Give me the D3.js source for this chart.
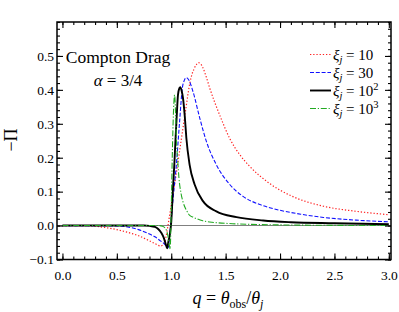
<!DOCTYPE html>
<html>
<head>
<meta charset="utf-8">
<script src="https://cdn.jsdelivr.net/npm/d3@7"></script>
<style>
html,body{margin:0;padding:0;background:#fff;}
svg{display:block;}
text{font-family:"Liberation Serif","DejaVu Serif",serif;fill:#000;}
</style>
</head>
<body>
<svg id="chart" width="399" height="312"></svg>
<script>
// ---- data ----
const xTicks = [0.0, 0.5, 1.0, 1.5, 2.0, 2.5, 3.0];
const yTicks = [-0.1, 0.0, 0.1, 0.2, 0.3, 0.4, 0.5];

const qRed = [0.0,0.2,0.3,0.4,0.5,0.6,0.7,0.8,0.85,0.9,0.93,0.95,0.97,0.99,1.01,1.04,1.07,1.10,1.13,1.17,1.19,1.21,1.23,1.25,1.27,1.29,1.32,1.354,1.40,1.45,1.54,1.63,1.72,1.9,2.1,2.4,2.7,3.0];
const vRed = [0,0,-0.002,-0.006,-0.012,-0.02,-0.03,-0.045,-0.053,-0.06,-0.056,-0.036,0.0,0.04,0.08,0.14,0.205,0.27,0.335,0.418,0.445,0.462,0.474,0.48,0.477,0.466,0.44,0.405,0.363,0.322,0.255,0.209,0.175,0.125,0.088,0.057,0.042,0.032];

const qBlue = [0.0,0.5,0.6,0.7,0.8,0.85,0.9,0.93,0.955,0.97,0.985,1.0,1.02,1.047,1.077,1.102,1.12,1.139,1.16,1.2,1.262,1.323,1.415,1.538,1.66,1.814,2.0,2.2,2.4,2.7,3.0];
const vBlue = [0,-0.001,-0.004,-0.012,-0.025,-0.033,-0.045,-0.052,-0.061,-0.066,-0.03,0.02,0.09,0.179,0.307,0.405,0.428,0.436,0.43,0.395,0.317,0.248,0.179,0.121,0.086,0.062,0.045,0.033,0.024,0.016,0.011];

const qBlack = [0.0,0.75,0.8,0.85,0.88,0.91,0.93,0.95,0.962,0.975,0.985,1.0,1.016,1.03,1.04,1.05,1.062,1.075,1.083,1.095,1.108,1.125,1.139,1.169,1.215,1.292,1.415,1.6,1.845,2.1,2.5,3.0];
const vBlack = [0,0,-0.001,-0.004,-0.01,-0.022,-0.035,-0.055,-0.067,-0.045,-0.031,0.01,0.11,0.19,0.259,0.32,0.385,0.405,0.408,0.398,0.376,0.32,0.258,0.179,0.121,0.072,0.042,0.025,0.015,0.010,0.007,0.004];

const qGreen = [0.0,0.88,0.92,0.95,0.97,0.985,0.99,1.0,1.01,1.02,1.031,1.04,1.047,1.06,1.071,1.09,1.108,1.14,1.17,1.2,1.29,1.4,1.6,2.0,3.0];
const vGreen = [0,0,-0.002,-0.01,-0.031,-0.062,-0.069,0.05,0.21,0.33,0.385,0.33,0.258,0.19,0.14,0.095,0.07,0.045,0.03,0.025,0.014,0.009,0.005,0.002,0.0];

const seriesNames = ["10", "30", "10", "10"];
const seriesExp = ["", "", "2", "3"];

// ---- layout ----
const svg = d3.select("#chart");
const L = 57, R = 391, T = 22, B = 259.5;
const x = d3.scaleLinear().domain([-0.05, 3.02]).range([L, R]);
const y = d3.scaleLinear().domain([-0.1, 0.6]).range([B, T]);

svg.append("defs").append("clipPath").attr("id","clip")
  .append("rect").attr("x",L).attr("y",T).attr("width",R-L).attr("height",B-T);

svg.append("line").attr("x1",L).attr("x2",R).attr("y1",y(0)).attr("y2",y(0))
  .attr("stroke","#808080").attr("stroke-width",1.1);

const series = [
  {q:qRed, v:vRed, color:"#ff2020", w:1.2, dash:"1.3,1.9"},
  {q:qBlue, v:vBlue, color:"#1010ff", w:1.1, dash:"4,1.8"},
  {q:qBlack, v:vBlack, color:"#000000", w:1.9, dash:null},
  {q:qGreen, v:vGreen, color:"#22aa22", w:1.1, dash:"6,1.8,1.2,1.8"}
];

const line = d3.line().x(d=>x(d[0])).y(d=>y(d[1])).curve(d3.curveMonotoneX);
const g = svg.append("g").attr("clip-path","url(#clip)");
series.forEach(s=>{
  g.append("path").datum(s.q.map((qq,i)=>[qq,s.v[i]]))
    .attr("d",line).attr("fill","none").attr("stroke",s.color)
    .attr("stroke-width",s.w).attr("stroke-dasharray",s.dash)
    .attr("stroke-linejoin","round");
});

const fmt = d => (d<0 ? "\u2212" : "") + Math.abs(d).toFixed(1);
const xMinor = d3.range(0, 3.0001, 0.1).map(v=>+v.toFixed(2));
const yMinor = d3.range(-0.1, 0.6001, 0.02).map(v=>+v.toFixed(2));

function addAxis(axisGen, tx, ty){
  const a = svg.append("g").attr("transform",`translate(${tx},${ty})`).call(axisGen);
  a.select(".domain").remove();
  a.selectAll("line").attr("stroke","#000").attr("stroke-width",1.1);
  return a;
}
addAxis(d3.axisBottom(x).tickValues(xMinor).tickSize(-3).tickFormat(""), 0, B);
addAxis(d3.axisTop(x).tickValues(xMinor).tickSize(-3).tickFormat(""), 0, T);
addAxis(d3.axisLeft(y).tickValues(yMinor).tickSize(-3).tickFormat(""), L, 0);
addAxis(d3.axisRight(y).tickValues(yMinor).tickSize(-3).tickFormat(""), R, 0);
const xb = addAxis(d3.axisBottom(x).tickValues(xTicks).tickSize(-6).tickPadding(11).tickFormat(fmt), 0, B);
addAxis(d3.axisTop(x).tickValues(xTicks).tickSize(-6).tickFormat(""), 0, T);
const yl = addAxis(d3.axisLeft(y).tickValues(yTicks).tickSize(-6).tickPadding(3).tickFormat(fmt), L, 0);
addAxis(d3.axisRight(y).tickValues(yTicks).tickSize(-6).tickFormat(""), R, 0);
[xb, yl].forEach(a=>{
  a.attr("font-family",null);
  a.selectAll("text").style("font-size","13.5px").attr("fill","#000");
});

svg.append("rect").attr("x",L).attr("y",T).attr("width",R-L).attr("height",B-T)
  .attr("fill","none").attr("stroke","#000").attr("stroke-width",1.5);

svg.append("text").attr("x",118).attr("y",63).attr("text-anchor","middle")
  .style("font-size","17.5px").text("Compton Drag");
const al = svg.append("text").attr("x",118).attr("y",86).attr("text-anchor","middle").style("font-size","17px");
al.append("tspan").style("font-style","italic").text("\u03b1");
al.append("tspan").text(" = 3/4");

svg.append("text").attr("transform","translate(17,140) rotate(-90)")
  .attr("text-anchor","middle").style("font-size","18px").text("\u2212\u03a0");

const xl = svg.append("text").attr("x",228).attr("y",304).attr("text-anchor","middle").style("font-size","18px");
xl.append("tspan").style("font-style","italic").text("q");
xl.append("tspan").text(" = ");
xl.append("tspan").style("font-style","italic").text("\u03b8");
xl.append("tspan").attr("dy",4).style("font-size","12px").text("obs");
xl.append("tspan").attr("dy",-4).text("/");
xl.append("tspan").style("font-style","italic").text("\u03b8");
xl.append("tspan").attr("dy",4).style("font-size","12px").style("font-style","italic").text("j");

series.forEach((s,i)=>{
  const ly = 54.5 + i*18;
  svg.append("line").attr("x1",310).attr("x2",331).attr("y1",ly).attr("y2",ly)
    .attr("stroke",s.color).attr("stroke-width",s.w).attr("stroke-dasharray",s.dash);
  const t = svg.append("text").attr("x",333).attr("y",ly+5).style("font-size","15px");
  t.append("tspan").style("font-style","italic").text("\u03be");
  t.append("tspan").attr("dy",3).style("font-size","10.5px").style("font-style","italic").text("j");
  t.append("tspan").attr("dy",-3).text(" = " + seriesNames[i]);
  if (seriesExp[i]) t.append("tspan").attr("dy",-6).style("font-size","10.5px").text(seriesExp[i]);
});
</script>
</body>
</html>
